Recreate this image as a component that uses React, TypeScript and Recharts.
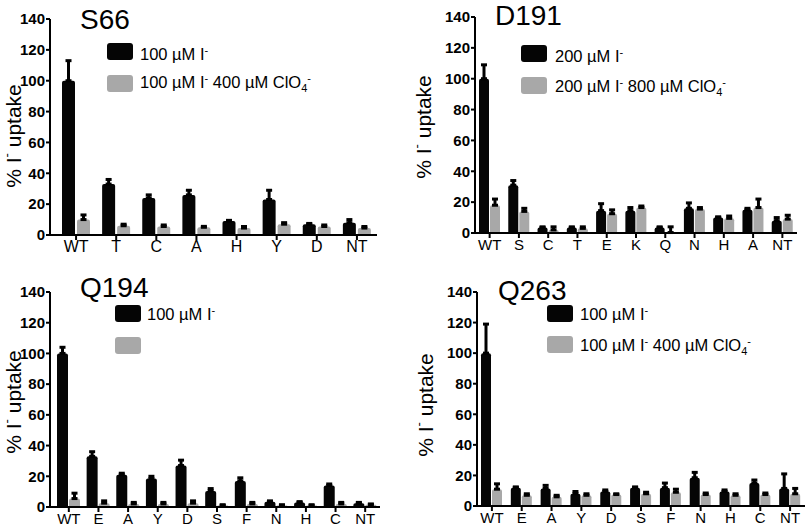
import { BarChart, Bar, XAxis, YAxis, ErrorBar } from 'recharts'

const FONT = '"Liberation Sans", Arial, sans-serif'
const BLACK = '#050505'
const GRAY = '#a8a8a8'
const yTicks = [0, 20, 40, 60, 80, 100, 120, 140]

// S66
const s66Cats = ['WT', 'T', 'C', 'A', 'H', 'Y', 'D', 'NT']
const s66Iodide = [100, 33, 24, 26, 9, 23, 7, 8]
const s66IodideErr = [13, 3, 2, 3, 0.5, 6, 0.5, 2]
const s66Perc = [10, 6, 5.5, 5, 4.5, 7, 5.5, 4.5]
const s66PercErr = [3, 1, 1, 0.6, 1, 1, 1, 1]

// D191
const d191Cats = ['WT', 'S', 'C', 'T', 'E', 'K', 'Q', 'N', 'H', 'A', 'NT']
const d191Iodide = [100, 31, 3.5, 3.5, 14.5, 14.5, 3.5, 16, 10, 15, 8]
const d191IodideErr = [9, 3, 0.5, 0.5, 4.5, 2, 0.5, 3.5, 0.5, 1, 2]
const d191Perc = [18, 14, 2, 3, 12.5, 16.5, 0.3, 15.5, 9.5, 16.5, 9]
const d191PercErr = [4, 2, 2, 1, 2.5, 1, 3.7, 1, 1.5, 5.5, 2.5]

// Q194
const q194Cats = ['WT', 'E', 'A', 'Y', 'D', 'S', 'F', 'N', 'H', 'C', 'NT']
const q194Iodide = [100, 33, 21, 18.5, 27, 10.5, 17, 3.5, 3, 14, 2.5]
const q194IodideErr = [4, 3, 1, 1.5, 3.5, 1.5, 2, 0.5, 0.5, 1, 0.5]
const q194Perc = [5.5, 2.5, 2, 2, 2.5, 1, 2, 1, 1, 2, 1.5]
const q194PercErr = [3.5, 1.5, 1, 1, 1.5, 0.5, 1, 0.5, 0.5, 1, 0.5]

// Q263
const q263Cats = ['WT', 'E', 'A', 'Y', 'D', 'S', 'F', 'N', 'H', 'C', 'NT']
const q263Iodide = [100, 12, 11.5, 8, 9.5, 12, 12, 18.5, 9.5, 15, 11.5]
const q263IodideErr = [19, 0.5, 2, 1.5, 1, 0.5, 3, 3.5, 1, 2, 9.5]
const q263Perc = [11, 7, 6, 7, 7.5, 8, 9, 7.5, 7, 7.5, 8]
const q263PercErr = [3.5, 1, 1, 1, 0.5, 1, 2, 1, 1, 1, 3.5]

function build(cats: string[], a: number[], ae: number[], b: number[], be: number[]) {
  return cats.map((c, i) => ({ cat: c, a: a[i], aErr: [0, ae[i]], b: b[i], bErr: [0, be[i]] }))
}

type PanelProps = {
  left: number
  top: number
  width: number
  height: number
  yWidth: number
  margin: { top: number; right: number; bottom: number; left: number }
  xHeight: number
  padLeft: number
  barSize: number
  barGap: number
  xFont: number
  data: ReturnType<typeof build>
}

function Panel(p: PanelProps) {
  const axis = { stroke: '#000', strokeWidth: 2 }
  return (
    <div style={{ position: 'absolute', left: p.left, top: p.top }}>
      <BarChart width={p.width} height={p.height} data={p.data} margin={p.margin} barSize={p.barSize} barGap={p.barGap}>
        <XAxis
          dataKey="cat"
          interval={0}
          height={p.xHeight}
          padding={{ left: p.padLeft, right: 0 }}
          axisLine={axis}
          tickLine={axis}
          tickSize={5}
          tickMargin={1}
          tick={{ fontSize: p.xFont, fill: '#000', fontFamily: FONT }}
        />
        <YAxis
          width={p.yWidth}
          domain={[0, 140]}
          ticks={yTicks}
          axisLine={axis}
          tickLine={axis}
          tickSize={4}
          tickMargin={1}
          tick={{ fontSize: 15, fontWeight: 'bold', fill: '#000', fontFamily: FONT }}
        />
        <Bar dataKey="a" fill={BLACK} radius={[2, 2, 0, 0]} isAnimationActive={false}>
          <ErrorBar dataKey="aErr" stroke="#000" strokeWidth={3} width={3} isAnimationActive={false} />
        </Bar>
        <Bar dataKey="b" fill={GRAY} radius={[2, 2, 0, 0]} isAnimationActive={false}>
          <ErrorBar dataKey="bErr" stroke="#000" strokeWidth={3} width={3} isAnimationActive={false} />
        </Bar>
      </BarChart>
    </div>
  )
}

function YLabel({ x, y }: { x: number; y: number }) {
  return (
    <text transform={`translate(${x},${y}) rotate(-90)`} textAnchor="middle" dominantBaseline="central" fontSize={21}>
      % I<tspan dy={-7} fontSize={13}>-</tspan>
      <tspan dy={7}> uptake</tspan>
    </text>
  )
}

function LegendItem({ x, y, fill, label, perc, tx, base }: { x: number; y: number; fill: string; label?: string; perc?: string; tx: number; base: number }) {
  return (
    <g>
      <rect x={x} y={y} width={26} height={17} rx={3} fill={fill} />
      {label && (
        <text x={tx} y={base} fontSize={16.5}>
          {label} I<tspan dy={-6} fontSize={11}>-</tspan>
          {perc && (
            <>
              <tspan dy={6}> {perc} ClO</tspan>
              <tspan dy={4} fontSize={11}>4</tspan>
              <tspan dy={-10} fontSize={11}>-</tspan>
            </>
          )}
        </text>
      )}
    </g>
  )
}

export default function App() {
  return (
    <div style={{ position: 'absolute', left: 0, top: 0, width: 807, height: 527, background: '#fff', fontFamily: FONT }}>
      <Panel
        left={0} top={0} width={400} height={262} yWidth={50}
        margin={{ top: 19, right: 23, bottom: 0, left: 0 }}
        xHeight={27} padLeft={6} barSize={13} barGap={2} xFont={16}
        data={build(s66Cats, s66Iodide, s66IodideErr, s66Perc, s66PercErr)}
      />
      <Panel
        left={400} top={0} width={407} height={260} yWidth={75}
        margin={{ top: 17, right: 10, bottom: 0, left: 0 }}
        xHeight={27} padLeft={0} barSize={10} barGap={1} xFont={15}
        data={build(d191Cats, d191Iodide, d191IodideErr, d191Perc, d191PercErr)}
      />
      <Panel
        left={0} top={265} width={400} height={262} yWidth={50}
        margin={{ top: 27, right: 20, bottom: 0, left: 0 }}
        xHeight={20} padLeft={4} barSize={11} barGap={1} xFont={15}
        data={build(q194Cats, q194Iodide, q194IodideErr, q194Perc, q194PercErr)}
      />
      <Panel
        left={400} top={265} width={407} height={262} yWidth={77}
        margin={{ top: 27, right: 2, bottom: 0, left: 0 }}
        xHeight={21} padLeft={0} barSize={10} barGap={1} xFont={15}
        data={build(q263Cats, q263Iodide, q263IodideErr, q263Perc, q263PercErr)}
      />
      <svg width={807} height={527} style={{ position: 'absolute', left: 0, top: 0, pointerEvents: 'none', fontFamily: FONT }}>
        <text x={80} y={29} fontSize={28}>S66</text>
        <text x={495} y={25} fontSize={28}>D191</text>
        <text x={80} y={297} fontSize={28}>Q194</text>
        <text x={498} y={300} fontSize={28}>Q263</text>

        <YLabel x={13} y={136} />
        <YLabel x={423} y={127} />
        <YLabel x={13} y={402} />
        <YLabel x={425} y={405} />

        <LegendItem x={107} y={43} fill={BLACK} label="100 µM" tx={140} base={60} />
        <LegendItem x={107} y={75} fill={GRAY} label="100 µM" perc="400 µM" tx={140} base={88} />
        <LegendItem x={521} y={45} fill={BLACK} label="200 µM" tx={555} base={62} />
        <LegendItem x={521} y={77} fill={GRAY} label="200 µM" perc="800 µM" tx={555} base={92} />
        <LegendItem x={115} y={305} fill={BLACK} label="100 µM" tx={147} base={320} />
        <LegendItem x={115} y={337} fill={GRAY} tx={147} base={352} />
        <LegendItem x={547} y={305} fill={BLACK} label="100 µM" tx={580} base={320} />
        <LegendItem x={547} y={336} fill={GRAY} label="100 µM" perc="400 µM" tx={580} base={351} />
      </svg>
    </div>
  )
}
